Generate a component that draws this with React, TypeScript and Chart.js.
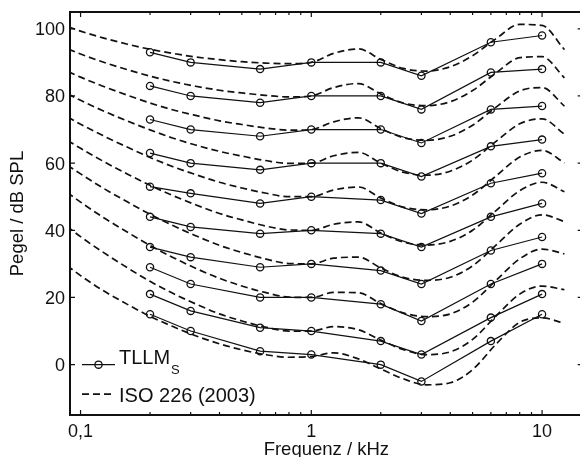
import React, { useEffect, useRef } from "react";
import { Chart, registerables } from "chart.js";

Chart.register(...registerables);

// Measured frequencies (kHz) for TLLM_S
const tllmFreqs = [0.2, 0.3, 0.6, 1, 2, 3, 6, 10];
const tllm90 = [93, 90, 88, 90, 90, 86, 96, 98];
const tllm80 = [83, 80, 78, 80, 80, 76, 87, 88];
const tllm70 = [73, 70, 68, 70, 70, 66, 76, 77];
const tllm60 = [63, 60, 58, 60, 60, 56, 65, 67];
const tllm50 = [53, 51, 48, 50, 49, 45, 54, 57];
const tllm40 = [44, 41, 39, 40, 39, 35, 44, 48];
const tllm30 = [35, 32, 29, 30, 28, 24, 34, 38];
const tllm20 = [29, 24, 20, 20, 18, 13, 24, 30];
const tllm10 = [21, 16, 11, 10, 7, 3, 14, 21];
const tllmThr = [15, 10, 4, 3, 0, -5, 7, 15];

// ISO 226 (2003) contour frequencies (kHz)
const isoFreqs = [0.08, 0.1, 0.125, 0.16, 0.2, 0.25, 0.315, 0.4, 0.5, 0.63, 0.8, 1, 1.25, 1.6, 2, 2.5, 3.15, 4, 5, 6.3, 8, 10, 12.5];
const isoThr = [31.5, 26.5, 22.1, 17.9, 14.4, 11.4, 8.6, 6.2, 4.4, 3.0, 2.2, 2.4, 3.5, 1.7, -1.3, -4.2, -6.0, -5.4, -1.5, 6.0, 12.6, 13.9, 12.3];
const iso10 = [43.2, 38.1, 33.5, 28.8, 24.8, 21.3, 18.1, 15.1, 13.0, 11.2, 10.0, 10, 11.3, 10.4, 7.3, 4.5, 3.0, 3.8, 7.5, 14.4, 21.0, 23.4, 22.3];
const iso20 = [53.2, 48.4, 43.9, 39.4, 35.5, 32.0, 28.7, 25.7, 23.4, 21.5, 20.1, 20, 21.5, 21.4, 18.2, 15.4, 14.3, 15.1, 18.6, 25.0, 31.5, 34.4, 33.0];
const iso30 = [61.2, 56.8, 52.6, 48.4, 44.8, 41.5, 38.4, 35.5, 33.4, 31.5, 30.1, 30, 31.7, 32.0, 28.8, 26.0, 25.1, 26.0, 29.4, 35.5, 41.8, 44.6, 42.6];
const iso40 = [68.5, 64.4, 60.6, 56.7, 53.4, 50.4, 47.6, 45.0, 43.1, 41.3, 40.1, 40, 41.8, 42.5, 39.2, 36.5, 35.6, 36.7, 40.0, 45.8, 51.8, 54.3, 51.5];
const iso50 = [75.4, 71.6, 68.2, 64.7, 61.7, 59.0, 56.6, 54.3, 52.6, 51.1, 50.0, 50, 52.0, 52.9, 49.6, 46.9, 46.1, 47.2, 50.5, 56.1, 61.8, 63.8, 60.1];
const iso60 = [82.1, 78.7, 75.6, 72.5, 69.9, 67.5, 65.4, 63.5, 62.1, 60.8, 59.9, 60, 62.2, 63.2, 60.0, 57.3, 56.4, 57.6, 60.9, 66.4, 71.7, 73.2, 68.6];
const iso70 = [88.6, 85.6, 82.9, 80.2, 77.9, 75.9, 74.2, 72.6, 71.5, 70.5, 69.8, 70, 72.3, 73.5, 70.3, 67.6, 66.8, 68.0, 71.3, 76.6, 81.5, 82.5, 77.0];
const iso80 = [95.2, 92.5, 90.1, 87.8, 85.9, 84.3, 82.9, 81.7, 80.9, 80.2, 79.7, 80, 82.5, 83.7, 80.6, 77.9, 77.1, 78.3, 81.6, 86.8, 91.4, 91.7, 85.4];
const iso90 = [101.7, 99.3, 97.3, 95.4, 93.9, 92.7, 91.6, 90.8, 90.2, 89.8, 89.6, 90, 92.7, 94.0, 90.9, 88.2, 87.4, 88.7, 92.0, 97.0, 101.3, 101.0, 93.8];

const xMajorTicks = [0.1, 1, 10];
const xMajorLabels = ["0,1", "1", "10"];
const xMinorTicks = [0.2, 0.3, 0.4, 0.5, 0.6, 0.7, 0.8, 0.9, 2, 3, 4, 5, 6, 7, 8, 9];
const yTicks = [0, 20, 40, 60, 80, 100];

const xTitle = "Frequenz / kHz";
const yTitle = "Pegel / dB SPL";
const legendSolid = "TLLM";
const legendSolidSub = "S";
const legendDashed = "ISO 226 (2003)";

const FONT = "'Liberation Sans', Arial, Helvetica, sans-serif";

const tllmSeries = [tllm90, tllm80, tllm70, tllm60, tllm50, tllm40, tllm30, tllm20, tllm10, tllmThr];
const isoSeries = [iso90, iso80, iso70, iso60, iso50, iso40, iso30, iso20, iso10, isoThr];

const CANVAS_W = 588;
const CANVAS_H = 457;

export default function App() {
  const ref = useRef<HTMLCanvasElement | null>(null);

  useEffect(() => {
    if (!ref.current) return;
    const datasets: any[] = [];
    isoSeries.forEach((s) => {
      datasets.push({
        data: isoFreqs.map((f, i) => ({ x: f, y: s[i] })),
        borderColor: "#111",
        borderWidth: 1.7,
        borderDash: [7, 4],
        pointRadius: 0,
        fill: false,
        cubicInterpolationMode: "monotone",
      });
    });
    tllmSeries.forEach((s) => {
      datasets.push({
        data: tllmFreqs.map((f, i) => ({ x: f, y: s[i] })),
        borderColor: "#111",
        borderWidth: 1.2,
        pointRadius: 3.6,
        pointBorderWidth: 1.3,
        pointBackgroundColor: "rgba(0,0,0,0)",
        pointBorderColor: "#111",
        fill: false,
        tension: 0,
      });
    });

    const framePlugin = {
      id: "frame",
      afterDraw(chart: any) {
        const ctx = chart.ctx as CanvasRenderingContext2D;
        const { left, right, top, bottom } = chart.chartArea;
        const xs = chart.scales.x;
        const ys = chart.scales.y;
        ctx.save();
        ctx.strokeStyle = "#111";
        ctx.fillStyle = "#111";
        // box
        ctx.lineWidth = 2;
        ctx.strokeRect(left, top, right - left, bottom - top);
        // ticks
        ctx.lineWidth = 1.2;
        ctx.beginPath();
        xMajorTicks.forEach((v) => {
          const px = xs.getPixelForValue(v);
          ctx.moveTo(px, bottom); ctx.lineTo(px, bottom - 5);
          ctx.moveTo(px, top); ctx.lineTo(px, top + 5);
        });
        xMinorTicks.forEach((v) => {
          const px = xs.getPixelForValue(v);
          ctx.moveTo(px, bottom); ctx.lineTo(px, bottom - 3);
          ctx.moveTo(px, top); ctx.lineTo(px, top + 3);
        });
        yTicks.forEach((v) => {
          const py = ys.getPixelForValue(v);
          ctx.moveTo(left, py); ctx.lineTo(left + 5, py);
          ctx.moveTo(right, py); ctx.lineTo(right - 5, py);
        });
        ctx.stroke();

        // tick labels
        ctx.font = `18px ${FONT}`;
        ctx.textBaseline = "alphabetic";
        ctx.textAlign = "right";
        yTicks.forEach((v) => {
          const py = ys.getPixelForValue(v);
          ctx.fillText(String(v), left - 5, py + 6.5);
        });
        ctx.textAlign = "center";
        xMajorTicks.forEach((v, i) => {
          const px = xs.getPixelForValue(v);
          ctx.fillText(xMajorLabels[i], px, bottom + 22);
        });

        // titles
        ctx.font = `18.5px ${FONT}`;
        ctx.fillText(xTitle, (left + right) / 2, 455);
        ctx.save();
        ctx.translate(23, (top + bottom) / 2);
        ctx.rotate(-Math.PI / 2);
        ctx.textAlign = "center";
        ctx.fillText(yTitle, 0, 0);
        ctx.restore();

        // legend
        const lx0 = left + 12, lx1 = left + 45;
        const ly1 = ys.getPixelForValue(0);
        ctx.lineWidth = 1.2;
        ctx.beginPath();
        ctx.moveTo(lx0, ly1); ctx.lineTo(lx1, ly1);
        ctx.stroke();
        ctx.lineWidth = 1.3;
        ctx.beginPath();
        ctx.arc((lx0 + lx1) / 2, ly1, 3.6, 0, Math.PI * 2);
        ctx.stroke();
        ctx.font = `20px ${FONT}`;
        ctx.textAlign = "left";
        ctx.fillText(legendSolid, lx1 + 4, ly1 - 0.5);
        const w = ctx.measureText(legendSolid).width;
        ctx.font = `13px ${FONT}`;
        ctx.fillText(legendSolidSub, lx1 + 4 + w + 1, ly1 + 9.5);

        const ly2 = ly1 + 29.5;
        ctx.lineWidth = 1.7;
        ctx.setLineDash([7, 4]);
        ctx.beginPath();
        ctx.moveTo(lx0, ly2); ctx.lineTo(lx1, ly2);
        ctx.stroke();
        ctx.setLineDash([]);
        ctx.font = `20px ${FONT}`;
        ctx.fillText(legendDashed, lx1 + 4, ly2 + 8);
        ctx.restore();
      },
    };

    const chart = new Chart(ref.current, {
      type: "line",
      data: { datasets },
      options: {
        animation: false,
        responsive: false,
        devicePixelRatio: 1,
        layout: { padding: { top: 12, right: 0, left: 0, bottom: 0 } },
        plugins: { legend: { display: false }, tooltip: { enabled: false }, title: { display: false } },
        scales: {
          x: {
            type: "logarithmic",
            min: 0.09,
            max: 15,
            ticks: { display: false },
            grid: { display: false },
            border: { display: false },
            afterFit: (s: any) => { s.height = 42; },
          },
          y: {
            type: "linear",
            min: -15,
            max: 105,
            ticks: { display: false },
            grid: { display: false },
            border: { display: false },
            afterFit: (s: any) => { s.width = 70; },
          },
        },
      } as any,
      plugins: [framePlugin],
    });
    return () => chart.destroy();
  }, []);

  return (
    <div style={{ position: "absolute", left: 0, top: 0, width: 580, height: 457, overflow: "hidden", background: "#fff" }}>
      <canvas ref={ref} width={CANVAS_W} height={CANVAS_H} style={{ width: CANVAS_W, height: CANVAS_H, display: "block" }} />
    </div>
  );
}
